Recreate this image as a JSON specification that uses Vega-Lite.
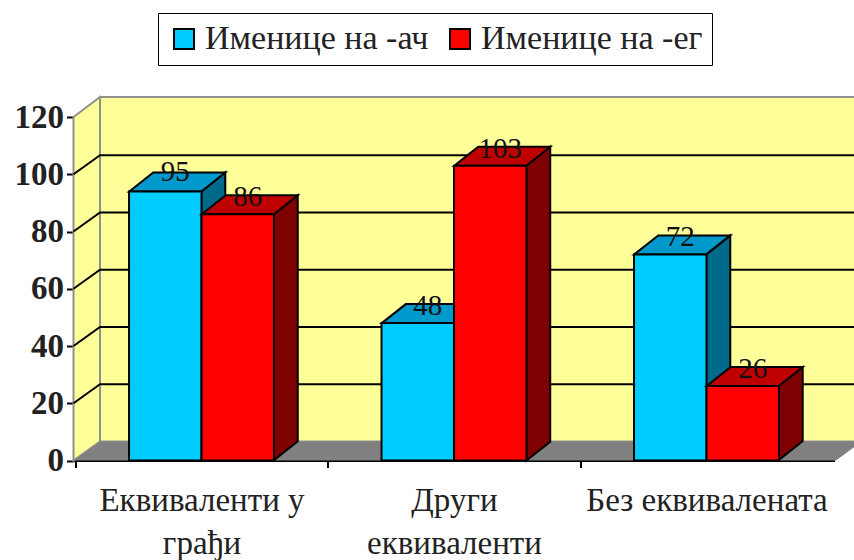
{
"$schema":"https://vega.github.io/schema/vega-lite/v6.json",
"width":761,"height":343.5,"autosize":"none",
"padding":{"left":73.5,"top":117,"right":19.5,"bottom":99.5},
"background":"white",
"datasets":{
"bars":[
{"id":"a1","cat":"Еквиваленти у|грађи","series":"Именице на -ач","value":94,"label":95},
{"id":"b1","cat":"Еквиваленти у|грађи","series":"Именице на -ег","value":86,"label":86},
{"id":"a2","cat":"Други|еквиваленти","series":"Именице на -ач","value":48,"label":48},
{"id":"b2","cat":"Други|еквиваленти","series":"Именице на -ег","value":103,"label":103},
{"id":"a3","cat":"Без еквивалената","series":"Именице на -ач","value":72,"label":72},
{"id":"b3","cat":"Без еквивалената","series":"Именице на -ег","value":26,"label":26}
],
"ticks":[{"t":20},{"t":40},{"t":60},{"t":80},{"t":100}]
},
"encoding":{
"x":{"field":"cat","type":"nominal","sort":null,
 "scale":{"domain":["Еквиваленти у|грађи","Други|еквиваленти","Без еквивалената"],"paddingInner":0.426,"paddingOuter":0.22},
 "axis":{"title":null,"labelAngle":0,"labelExpr":"split(datum.label,'|')","labelFont":"Liberation Serif","labelFontSize":33,"labelColor":"#222","labelLineHeight":43,"labelPadding":17,"labelLimit":400,"labelOverlap":false,"labelBound":false,"labelOffset":54,"domainColor":"black","domainWidth":2,"tickColor":"black","tickWidth":2,"tickSize":7,"bandPosition":0,"tickOffset":-54}},
"y":{"type":"quantitative","scale":{"domain":[0,120],"nice":false},
 "axis":{"title":null,"values":[0,20,40,60,80,100,120],"grid":false,"labelFont":"Liberation Serif","labelFontSize":33,"labelFontWeight":"bold","labelColor":"#222","labelPadding":3,"domainColor":"black","domainWidth":2,"tickColor":"black","tickWidth":2,"tickSize":7}}
},
"layer":[
{"data":{"values":[{"v":0}]},"mark":{"type":"point","filled":true,"opacity":1,"size":4,"fill":"#FFFF99","stroke":"#909090","strokeWidth":2,"shape":"M-354,-19 L-354,-363.5 L408,-363.5 L408,-19 Z M-380.5,0 L-354,-19 L-354,-363.5 L-380.5,-343.5 Z","clip":false},
 "encoding":{"x":{"datum":"Други|еквиваленти"},"y":{"field":"v","type":"quantitative"}}},
{"data":{"values":[{"v":0}]},"mark":{"type":"point","filled":true,"opacity":1,"size":4,"fill":"#808080","shape":"M-380.5,0 L-354,-19 L408,-19 L382,0 Z","clip":false},
 "encoding":{"x":{"datum":"Други|еквиваленти"},"y":{"field":"v","type":"quantitative"}}},
{"data":{"name":"ticks"},"mark":{"type":"point","filled":false,"opacity":1,"size":4,"stroke":"black","strokeWidth":2,"shape":"M-380.5,0 L-354,-19 L408,-19","clip":false},
 "encoding":{"x":{"datum":"Други|еквиваленти"},"y":{"field":"t","type":"quantitative"}}},
{"data":{"name":"bars"},"transform":[{"filter":"datum.series==='Именице на -ач'"}],
 "mark":{"type":"point","filled":true,"opacity":1,"size":4,"fill":"#006A8A","stroke":"black","strokeWidth":2},
 "encoding":{"xOffset":{"field":"series","scale":{"domain":["Именице на -ач","Именице на -ег"]}},"y":{"field":"value","type":"quantitative"},
 "shape":{"field":"id","legend":null,"scale":{"domain":["a1","b1","a2","b2","a3","b3"],"range":[
 "M36,0 L60,-19 L60,250 L36,269 Z","M36,0 L60,-19 L60,227 L36,246 Z","M36,0 L60,-19 L60,118 L36,137 Z","M36,0 L60,-19 L60,276 L36,295 Z","M36,0 L60,-19 L60,187 L36,206 Z","M36,0 L60,-19 L60,55 L36,74 Z"]}}}},
{"data":{"name":"bars"},"transform":[{"filter":"datum.series==='Именице на -ач'"}],
 "mark":{"type":"point","filled":true,"opacity":1,"size":4,"fill":"#0099CC","stroke":"black","strokeWidth":2,"shape":"M-36,0 L-12,-19 L60,-19 L36,0 Z"},
 "encoding":{"xOffset":{"field":"series"},"y":{"field":"value","type":"quantitative"}}},
{"data":{"name":"bars"},"transform":[{"filter":"datum.series==='Именице на -ач'"}],
 "mark":{"type":"bar","stroke":"black","strokeWidth":2},
 "encoding":{"xOffset":{"field":"series"},"y":{"field":"value","type":"quantitative"},
 "color":{"field":"series","type":"nominal","scale":{"domain":["Именице на -ач","Именице на -ег"],"range":["#00CCFF","#FF0000"]},
 "legend":{"title":null,"orient":"none","legendX":84.5,"legendY":-104,"direction":"horizontal","columns":2,"symbolType":"square","symbolSize":400,"symbolStrokeColor":"black","symbolStrokeWidth":2,"labelFont":"Liberation Serif","labelFontSize":34,"labelColor":"#222","labelLimit":400,"labelOffset":4,"columnPadding":14,"strokeColor":"black","fillColor":"white","padding":9}}}},
{"data":{"name":"bars"},"transform":[{"filter":"datum.series==='Именице на -ег'"}],
 "mark":{"type":"point","filled":true,"opacity":1,"size":4,"fill":"#7F0000","stroke":"black","strokeWidth":2},
 "encoding":{"xOffset":{"field":"series"},"y":{"field":"value","type":"quantitative"},"shape":{"field":"id","legend":null}}},
{"data":{"name":"bars"},"transform":[{"filter":"datum.series==='Именице на -ег'"}],
 "mark":{"type":"point","filled":true,"opacity":1,"size":4,"fill":"#BF0000","stroke":"black","strokeWidth":2,"shape":"M-36,0 L-12,-19 L60,-19 L36,0 Z"},
 "encoding":{"xOffset":{"field":"series"},"y":{"field":"value","type":"quantitative"}}},
{"data":{"name":"bars"},"transform":[{"filter":"datum.series==='Именице на -ег'"}],
 "mark":{"type":"bar","stroke":"black","strokeWidth":2},
 "encoding":{"xOffset":{"field":"series"},"y":{"field":"value","type":"quantitative"},"color":{"field":"series","type":"nominal"}}},
{"data":{"name":"bars"},
 "mark":{"type":"text","font":"Liberation Serif","fontSize":29,"color":"#111","dx":10,"dy":-17,"baseline":"middle"},
 "encoding":{"xOffset":{"field":"series"},"y":{"field":"label","type":"quantitative"},"text":{"field":"label"}}}
]
}
